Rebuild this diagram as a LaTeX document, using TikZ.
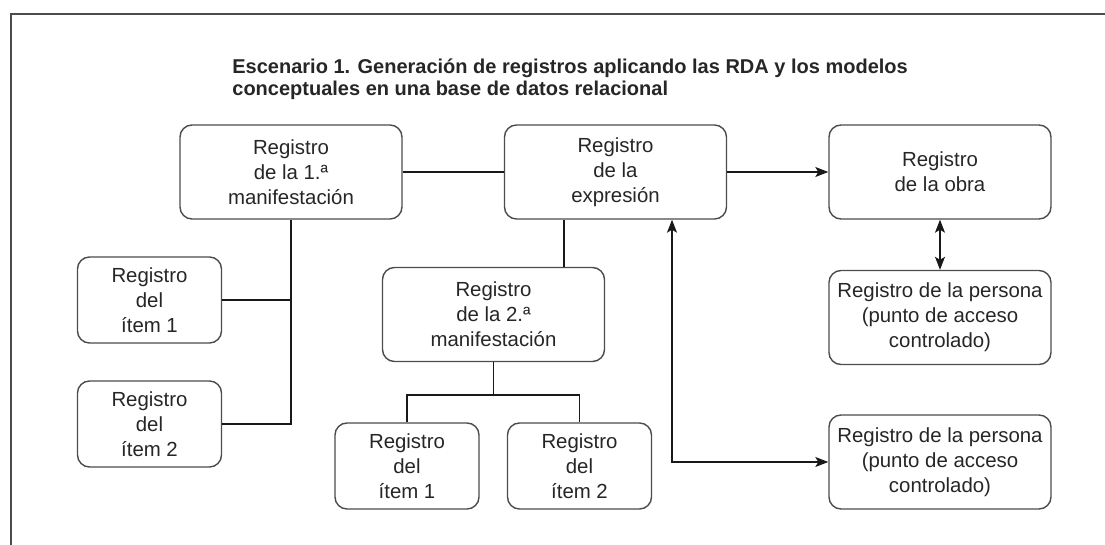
\documentclass[tikz,border=0pt]{standalone}
\usepackage{fontspec}
\setmainfont{Liberation Sans}
\usetikzlibrary{arrows.meta, positioning}

\begin{document}
\begin{tikzpicture}[
  x=0.5pt, y=-0.5pt,
  every node/.style={font=\fontsize{10.2}{12.5}\selectfont, text=black!85},
  rec/.style={rectangle, rounded corners=6pt, draw=black!70, line width=0.7pt,
              align=center, inner sep=0pt, minimum width=111pt, minimum height=47pt},
  item/.style={rec, minimum width=72pt, minimum height=43pt},
  link/.style={line width=0.6pt, black!90},
  arr/.style={link, >={Stealth[length=6.5pt, width=5pt, inset=1.5pt]}},
  frame/.style={line width=0.8pt, black!70},
]
\useasboundingbox (0,0) rectangle (1105,545);

\def\xA{291} \def\xB{615.5} \def\xC{940}

% Marco
\draw[frame] (1105,14) -- (11,14) -- (11,545);

% Titulo
\node[anchor=north west, inner sep=0pt, align=left,
      font=\fontsize{10}{11}\selectfont\bfseries] (titulo) at (232,58)
  {Escenario 1. Generación de registros aplicando las RDA y los modelos\\
   conceptuales en una base de datos relacional};

% Registros principales
\node[rec] (man1) at (\xA,172) {Registro\\de la 1.ª\\manifestación};
\node[rec] (expr) at (\xB,172) {Registro\\de la\\expresión};
\node[rec] (obra) at (\xC,172) {Registro\\de la obra};
\node[rec] (pers1) at (\xC,317.5) {Registro de la persona\\(punto de acceso\\controlado)};
\node[rec] (pers2) at (\xC,462) {Registro de la persona\\(punto de acceso\\controlado)};
\node[rec] (man2) at (493.5,314.5) {Registro\\de la 2.ª\\manifestación};

% Items
\node[item] (it1a) at (149.5,300) {Registro\\del\\ítem 1};
\node[item] (it2a) at (149.5,424) {Registro\\del\\ítem 2};
\node[item] (it1b) at (407,466) {Registro\\del\\ítem 1};
\node[item] (it2b) at (579.5,466) {Registro\\del\\ítem 2};

% Puntos de apoyo
\coordinate (bajada) at (564,0);
\coordinate (barra) at (493,395);
\coordinate (esq) at (672,462);

% Conexiones
\draw[link] (man1.east) -- (expr.west);
\draw[arr, ->] (expr.east) -- (obra.west);
\draw[arr, <->] (obra.south) -- (pers1.north);

\draw[link] (man1.south) -- (man1.south |- it2a.east) -- (it2a.east);
\draw[link] (it1a.east) -- (it1a.east -| man1.south);

\draw[link] (expr.south -| bajada) -- (man2.north -| bajada);
\draw[link] (man2.south) -- (man2.south |- barra);
\draw[link] (it1b.north) -- (it1b.north |- barra) -- (it2b.north |- barra) -- (it2b.north);

\draw[arr, <->] (expr.south -| esq) -- (esq) -- (pers2.west);

\end{tikzpicture}
\end{document}
